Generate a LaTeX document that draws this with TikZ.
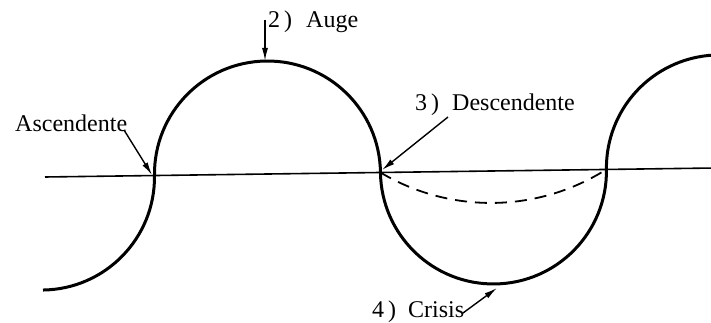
\documentclass[tikz,border=0pt]{standalone}
\usepackage{fontspec}
\setmainfont{Liberation Serif}
\usetikzlibrary{arrows.meta}
\begin{document}
\begin{tikzpicture}[x=1pt,y=1pt,
  curve/.style={line width=3pt},
  axisline/.style={line width=1.6pt},
  dashcurve/.style={line width=1.8pt,dash pattern=on 12pt off 8pt},
  pointer/.style={line width=1.4pt,-{Latex[length=13pt,width=6pt]}},
  lbl/.style={inner sep=0pt,anchor=base west,font=\fontsize{24}{28}\selectfont}]
\useasboundingbox (0,0) rectangle (711,323);
\clip (0,0) rectangle (711,323);
\begin{scope}[shift={(45,146)},rotate=0.77]
  \draw[axisline] (0,0) -- (700,0);
  \draw[curve] (-3.5,-113) arc[start angle=270,end angle=360,radius=113]
     arc[start angle=180,end angle=0,radius=113]
     arc[start angle=180,end angle=360,radius=113]
     arc[start angle=180,end angle=80,radius=113];
  \draw[dashcurve] (335.5,0) arc[start angle=238.4,end angle=301.6,radius=215.5];
\end{scope}
\node[lbl] (asc) at (15,191) {Ascendente};
\node[lbl] (auge) at (268,295) {2\,)\hspace{14pt}Auge};
\node[lbl] (desc) at (415,212) {3\,)\hspace{13pt}Descendente};
\node[lbl] (cris) at (372,5) {4\,)\hspace{12pt}Crisis};
\coordinate (ascFrom) at (124,193);
\coordinate (ascTo) at (152,148);
\coordinate (augeFrom) at (265,303);
\coordinate (augeTo) at (265,262);
\coordinate (descFrom) at (448,206);
\coordinate (descTo) at (382,153);
\coordinate (crisFrom) at (463,10);
\coordinate (crisTo) at (497,35);
\draw[pointer] (ascFrom) -- (ascTo);
\draw[pointer] (augeFrom) -- (augeTo);
\draw[pointer] (descFrom) -- (descTo);
\draw[pointer] (crisFrom) -- (crisTo);
\end{tikzpicture}
\end{document}
